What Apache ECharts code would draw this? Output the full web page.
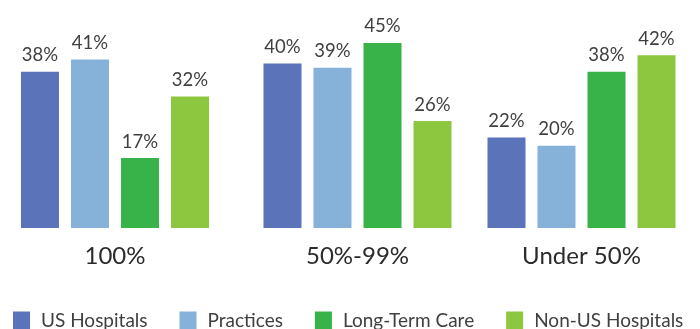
<!DOCTYPE html>
<html>
<head>
<meta charset="utf-8">
<script src="https://cdn.jsdelivr.net/npm/echarts@6/dist/echarts.min.js"></script>
<style>
html,body{margin:0;padding:0;background:#fff;}
#chart{width:700px;height:329px;}
</style>
</head>
<body>
<div id="chart"></div>
<script>
var categories = ['100%', '50%-99%', 'Under 50%'];
var seriesNames = ['US Hospitals', 'Practices', 'Long-Term Care', 'Non-US Hospitals'];
var usHospitals = [38, 40, 22];
var practices = [41, 39, 20];
var longTermCare = [17, 45, 38];
var nonUsHospitals = [32, 26, 42];

var values = [usHospitals, practices, longTermCare, nonUsHospitals];
var colors = ['#5b73b8', '#86b1d9', '#37b34a', '#8dc63f'];
var groupCenters = [115, 357.5, 581.5];
var FONT = 'Lato';

var grids = [], xAxes = [], yAxes = [], series = [];
categories.forEach(function (cat, i) {
  grids.push({ left: groupCenters[i] - 100, width: 200, top: 22.4, height: 205.6 });
  xAxes.push({
    type: 'category', gridIndex: i, data: [cat],
    axisLine: { show: false }, axisTick: { show: false },
    axisLabel: { margin: 16, fontSize: 24, color: '#2b2b2b', fontFamily: FONT }
  });
  yAxes.push({ type: 'value', gridIndex: i, min: 0, max: 50, show: false, splitLine: { show: false } });
  values.forEach(function (arr, s) {
    series.push({
      type: 'bar', name: seriesNames[s], xAxisIndex: i, yAxisIndex: i,
      data: [arr[i]], barWidth: 38, barGap: '31.6%',
      itemStyle: { color: colors[s] },
      label: { show: true, position: 'top', distance: 7, formatter: '{c}%',
               fontSize: 18.5, color: '#404040', fontFamily: FONT }
    });
  });
});

var chart = echarts.init(document.getElementById('chart'));
chart.setOption({
  animation: false,
  color: colors,
  grid: grids, xAxis: xAxes, yAxis: yAxes, series: series,
  legend: {
    data: seriesNames, left: 13, top: 311, padding: 0,
    itemWidth: 17, itemHeight: 18, itemGap: 32,
    icon: 'rect',
    textStyle: { fontSize: 19, color: '#404040', fontFamily: FONT, padding: [0, 0, 0, 6] }
  }
});
</script>
</body>
</html>
